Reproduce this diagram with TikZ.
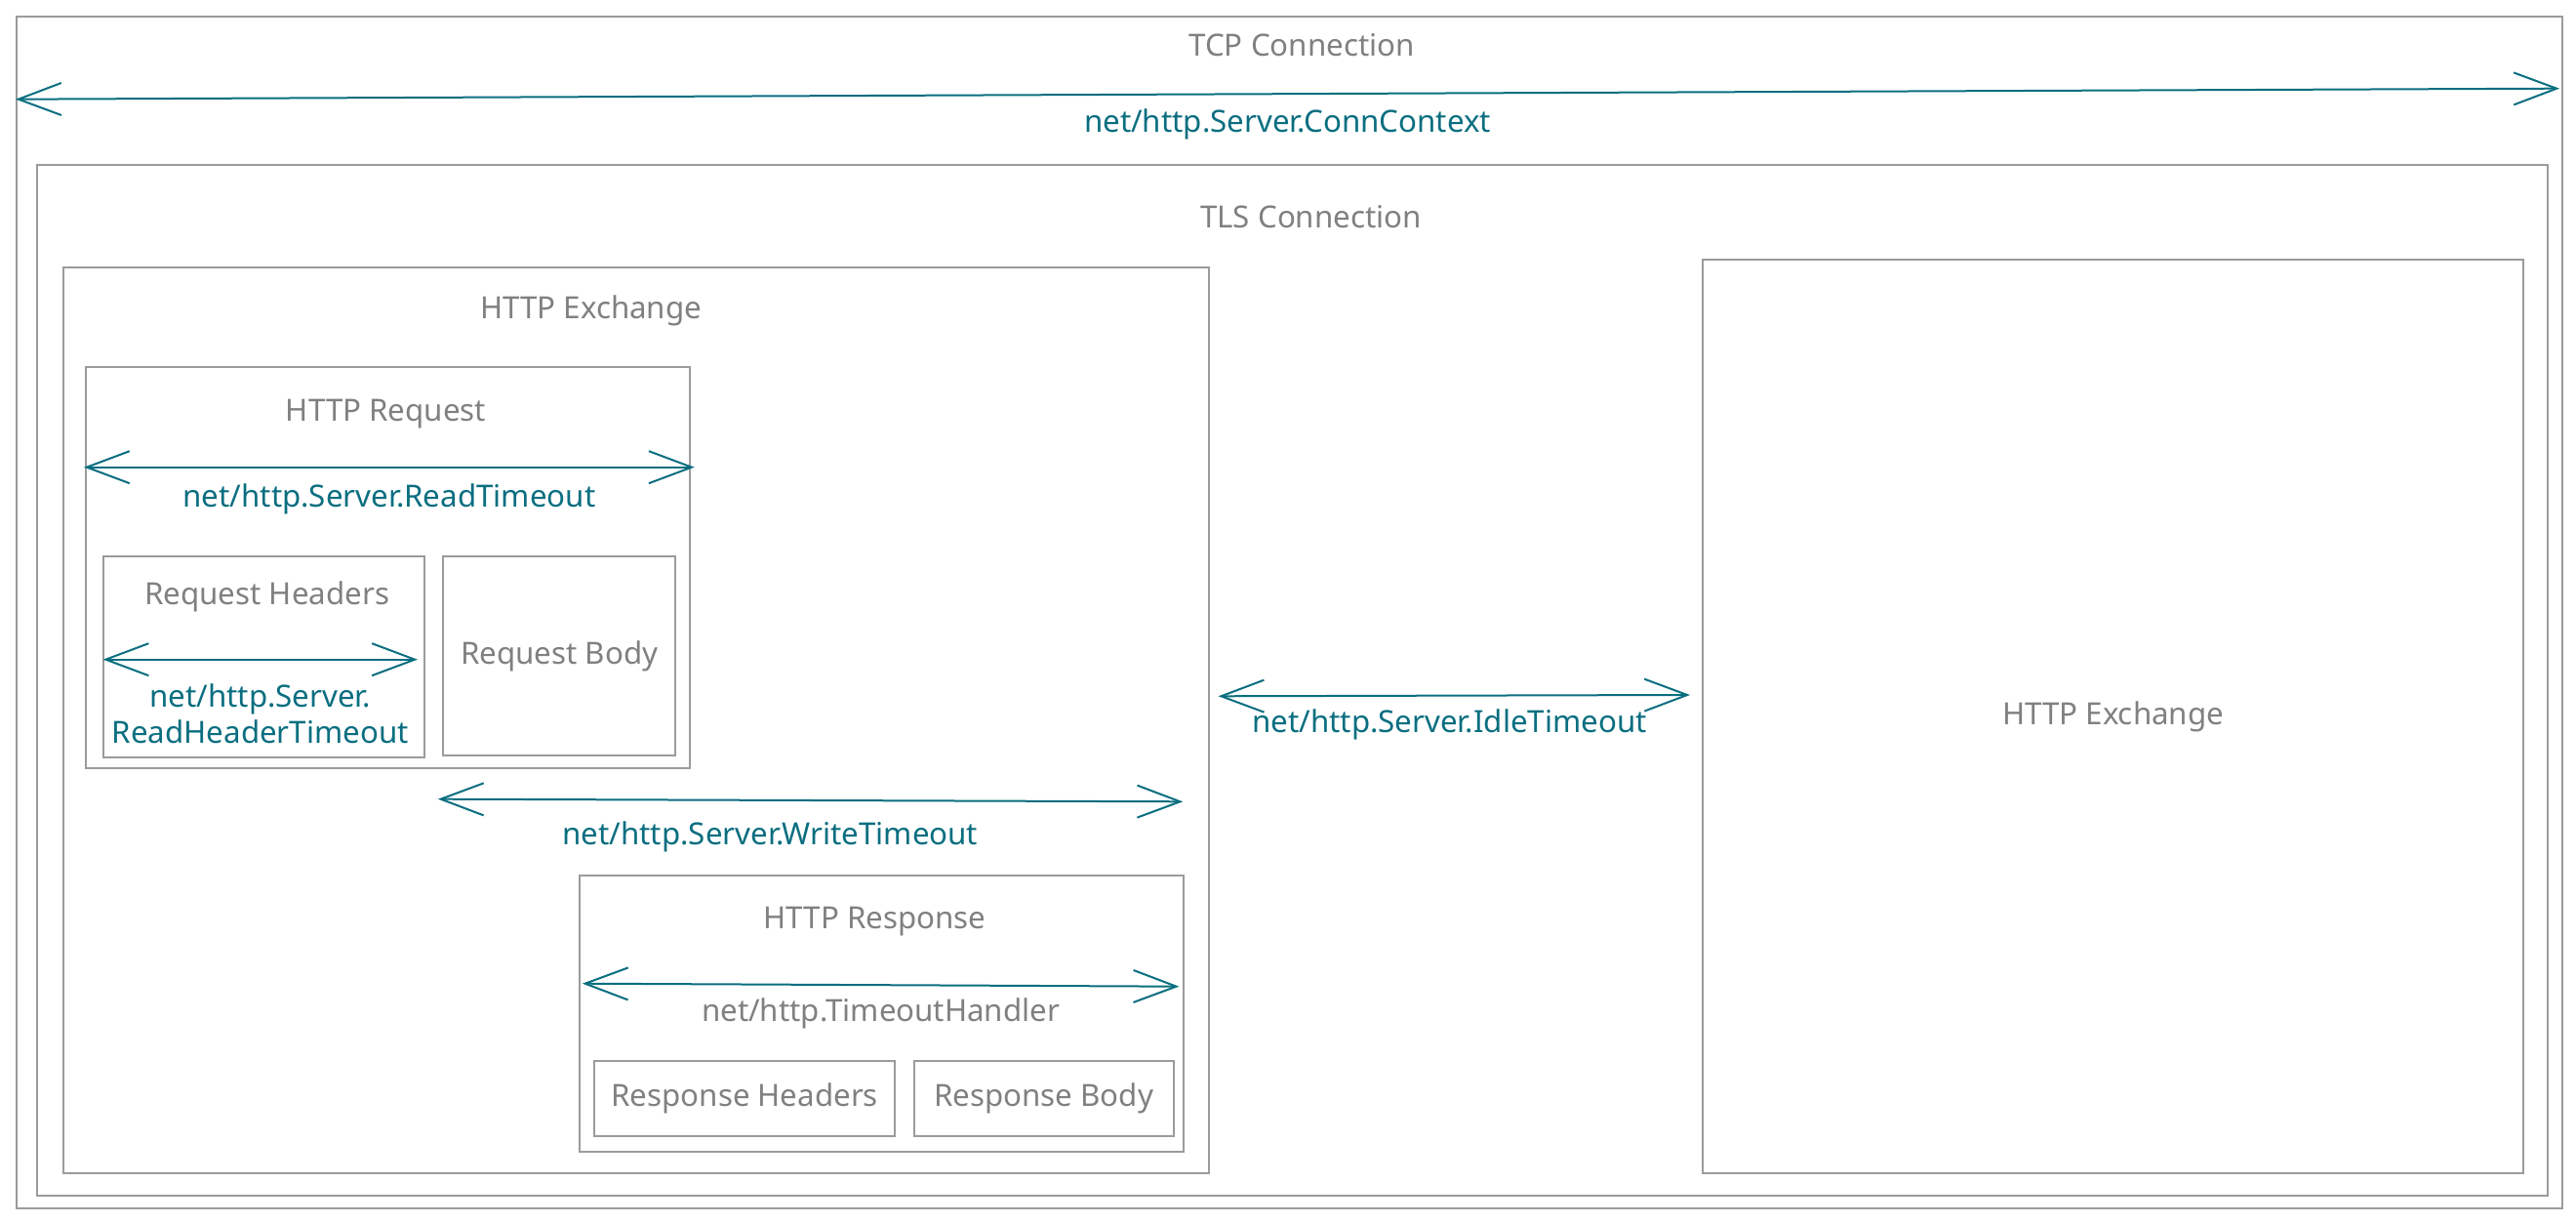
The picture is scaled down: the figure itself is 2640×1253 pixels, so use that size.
\documentclass[tikz,border=0pt]{standalone}
\usepackage{fontspec}
\setmainfont{Noto Sans}
\usetikzlibrary{arrows.meta,positioning}
\definecolor{boxgray}{RGB}{155,155,155}
\definecolor{txtgray}{RGB}{128,128,128}
\definecolor{timeteal}{RGB}{10,110,128}
\newcommand{\lblfont}{\fontsize{8.9}{10.6}\selectfont}
\tikzset{
  frame/.style={draw=boxgray, line width=0.2mm, anchor=north west, inner sep=0pt, text=txtgray, font=\lblfont},
  title/.style={anchor=base, text=txtgray, font=\lblfont, inner sep=0pt},
  span/.style={{Straight Barb[length=4.4mm,width=3.3mm]}-{Straight Barb[length=4.4mm,width=3.3mm]}, draw=timeteal, line width=0.2mm},
  tlabel/.style={text=timeteal, font=\lblfont, inner sep=0pt},
}

\begin{document}
\begin{tikzpicture}[x=0.1mm, y=-0.1mm]
\useasboundingbox (0,0) rectangle (2640,1253);
\node[frame, minimum width=260.9mm, minimum height=122.1mm] (tcp) at (16,16) {};
\node[frame, minimum width=257.3mm, minimum height=105.6mm] (tls) at (37,168) {};
\node[frame, minimum width=117.4mm, minimum height=92.8mm] (exL) at (63.6,272.7) {};
\node[frame, minimum width=61.9mm, minimum height=41.1mm] (req) at (86.8,375) {};
\node[frame, minimum width=32.9mm, minimum height=20.6mm] (reqH) at (104.6,569.3) {};
\node[frame, minimum width=23.8mm, minimum height=20.4mm] (reqB) at (453.3,569) {Request Body};
\node[frame, minimum width=61.9mm, minimum height=28.3mm] (resp) at (592.6,895.7) {};
\node[frame, minimum width=30.8mm, minimum height=7.7mm] (respH) at (608.2,1086) {Response Headers};
\node[frame, minimum width=26.6mm, minimum height=7.7mm] (respB) at (935.6,1086) {Response Body};
\node[frame, minimum width=84.1mm, minimum height=93.6mm] (exR) at (1744,265) {HTTP Exchange};
%============
\node[title] (tcpT) at (1334,57.3) {TCP Connection};
\node[title] (tlsT) at (1343.5,234) {TLS Connection};
\node[title] (exLT) at (605.6,326.7) {HTTP Exchange};
\node[title] (reqT) at (395.5,431.7) {HTTP Request};
\node[title] (reqHT) at (273.6,620) {Request Headers};
\node[title] (respT) at (896.5,951.7) {HTTP Response};
%============
\coordinate (tcpL) at (16,101.7);
\coordinate (tcpR) at (2623,90.7);
\coordinate (readL) at (86,478.7);
\coordinate (readR) at (711.8,478.7);
\coordinate (hdrL) at (105.5,675.7);
\coordinate (hdrR) at (428,675.7);
\coordinate (writeL) at (448.8,818.7);
\coordinate (writeR) at (1212.3,821.3);
\coordinate (handL) at (596.8,1007.7);
\coordinate (handR) at (1208.4,1010.7);
\coordinate (idleL) at (1248.6,713.3);
\coordinate (idleR) at (1732,712);

\draw[span] (tcpL) -- node[tlabel, below=1.5mm] {net/http.Server.ConnContext} (tcpR);
\draw[span] (readL) -- node[tlabel, below=1.6mm] {net/http.Server.ReadTimeout} (readR);
\draw[span] (hdrL) -- node[tlabel, below=2.4mm, align=center] {net/http.Server.\\ReadHeaderTimeout} (hdrR);
\draw[span] (writeL) -- node[tlabel, pos=0.446, below=2.1mm] {net/http.Server.WriteTimeout} (writeR);
\draw[span] (handL) -- node[tlabel, text=txtgray, below=1.3mm] {net/http.TimeoutHandler} (handR);
\draw[span] (idleL) -- node[tlabel, pos=0.49, below=1.3mm] {net/http.Server.IdleTimeout} (idleR);
\end{tikzpicture}
\end{document}
